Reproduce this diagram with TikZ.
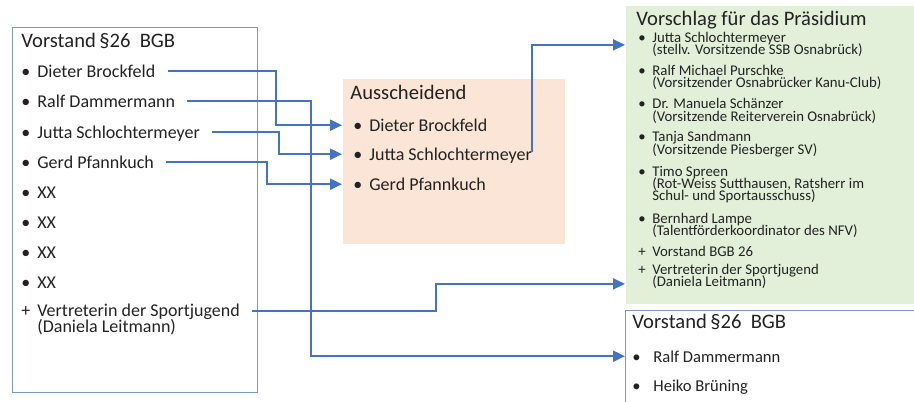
\documentclass[tikz,border=0pt]{standalone}
\usepackage{fontspec}
\setmainfont{Carlito}
\usepackage{tikz}
\usetikzlibrary{arrows.meta}
\definecolor{linkblue}{HTML}{4472C4}
\definecolor{frame}{HTML}{7F96C4}
\definecolor{peach}{HTML}{FBE5D6}
\definecolor{mint}{HTML}{E2F0D9}
\definecolor{ink}{HTML}{222222}
\newcommand{\bul}[1]{\makebox[8pt][l]{#1}}
\newcommand{\gbul}[1]{\makebox[7pt][l]{#1}}
\newcommand{\itemfont}{\fontsize{9}{7.6}\selectfont\lineskiplimit=-10pt\relax}
\newcommand{\notefont}{\fontsize{7.4}{6}\selectfont\lineskiplimit=-10pt\relax}
\tikzset{
    every node/.append style={inner sep=0pt, text=ink},
    panel/.style={draw=frame, line width=0.6pt, rectangle, anchor=north west},
    heading/.style={anchor=base west, font=\fontsize{10.3}{12}\selectfont},
    item/.style={anchor=base west, font=\itemfont, text height=5.8pt, text depth=0pt},
    twoline/.style={anchor=base west, align=left, font=\itemfont},
    note/.style={anchor=base west, align=left, font=\notefont},
    link/.style={draw=linkblue, line width=1pt, shorten <=6pt,
        -{Triangle[length=6pt,width=5.5pt]}},
}

\begin{document}
\begin{tikzpicture}[x=0.5pt, y=-0.5pt]
  \clip (0,0) rectangle (914,401);

  % boxes (multi-line nodes below sit on their last baseline)
  \node[panel, minimum width=122.5pt, minimum height=182.5pt] (vorstandBox) at (12,27) {};
  \node[panel, draw=none, fill=peach, minimum width=111pt, minimum height=82.5pt] (ausBox) at (342,78) {};
  \node[panel, draw=none, fill=mint, minimum width=150pt, minimum height=149pt] (planBox) at (625,5) {};
  \node[panel, minimum width=150pt, minimum height=50pt] (neuBox) at (625,310) {};

  % left column
  \node[heading] (lTitle) at (21,48) {Vorstand\,§26\ \ BGB};
  \node[item] (lDieter) at (21,77) {\bul{\textbullet}Dieter Brockfeld};
  \node[item] (lRalf) at (21,107) {\bul{\textbullet}Ralf Dammermann};
  \node[item] (lJutta) at (21,138) {\bul{\textbullet}Jutta Schlochtermeyer};
  \node[item] (lGerd) at (21,168) {\bul{\textbullet}Gerd Pfannkuch};
  \foreach \i/\y in {1/198,2/228,3/258,4/288}
    \node[item] (lXX\i) at (21,\y) {\bul{\textbullet}XX};
  \node[twoline] (lVertr) at (21,332) {\bul{+}Vertreterin der Sportjugend\\\bul{}(Daniela Leitmann)};

  % middle
  \node[heading] (mTitle) at (350,99) {Ausscheidend};
  \node[item] (mDieter) at (353,131) {\bul{\textbullet}Dieter Brockfeld};
  \node[item] (mJutta) at (353,160) {\bul{\textbullet}Jutta Schlochtermeyer};
  \node[item] (mGerd) at (353,190) {\bul{\textbullet}Gerd Pfannkuch};

  % proposal
  \node[heading] (gTitle) at (636,26) {Vorschlag für das Präsidium};
  \node[note] (gJutta) at (638,55) {\gbul{\textbullet}Jutta Schlochtermeyer\\\gbul{}(stellv. Vorsitzende SSB Osnabrück)};
  \node[note] (gRalf) at (638,88) {\gbul{\textbullet}Ralf Michael Purschke\\\gbul{}(Vorsitzender Osnabrücker Kanu-Club)};
  \node[note] (gManuela) at (638,121) {\gbul{\textbullet}Dr. Manuela Schänzer\\\gbul{}(Vorsitzende Reiterverein Osnabrück)};
  \node[note] (gTanja) at (638,154) {\gbul{\textbullet}Tanja Sandmann\\\gbul{}(Vorsitzende Piesberger SV)};
  \node[note] (gTimo) at (638,200) {\gbul{\textbullet}Timo Spreen\\\gbul{}(Rot-Weiss Sutthausen, Ratsherr im\\\gbul{}Schul- und Sportausschuss)};
  \node[note] (gBernhard) at (638,235) {\gbul{\textbullet}Bernhard Lampe\\\gbul{}(Talentförderkoordinator des NFV)};
  \node[note] (gVorstand) at (638,256) {\gbul{+}Vorstand BGB 26};
  \node[note] (gVertr) at (638,286) {\gbul{+}Vertreterin der Sportjugend\\\gbul{}(Daniela Leitmann)};

  % new board
  \node[heading] (rTitle) at (632,328) {Vorstand\,§26\ \ BGB};
  \node[item, font=\fontsize{8.3}{10}\selectfont] (rRalf) at (632,362) {\makebox[10.5pt][l]{\textbullet}Ralf Dammermann};
  \node[item, font=\fontsize{8.3}{10}\selectfont] (rHeiko) at (632,391) {\makebox[10.5pt][l]{\textbullet}Heiko Brüning};

  % links
  \coordinate (lVertrOut) at ([yshift=4pt]lVertr.east);
  \coordinate (gVertrIn) at ([yshift=-4pt]gVertr.west);
  \draw[link] (lDieter.east) -| (276,0 |- mDieter) -- (mDieter -| ausBox.west);
  \draw[link] (lJutta.east) -| (279,0 |- mJutta) -- (mJutta -| ausBox.west);
  \draw[link] (lGerd.east) -| (267,0 |- mGerd) -- (mGerd -| ausBox.west);
  \draw[link] (lRalf.east) -| (311,0 |- rRalf) -- (rRalf -| neuBox.west);
  \draw[link] (lVertrOut) -| (436,0 |- gVertrIn) -- (gVertrIn -| planBox.west);
  \draw[link, shorten <=1pt] (mJutta.east) |- (gJutta -| planBox.west);
\end{tikzpicture}
\end{document}
